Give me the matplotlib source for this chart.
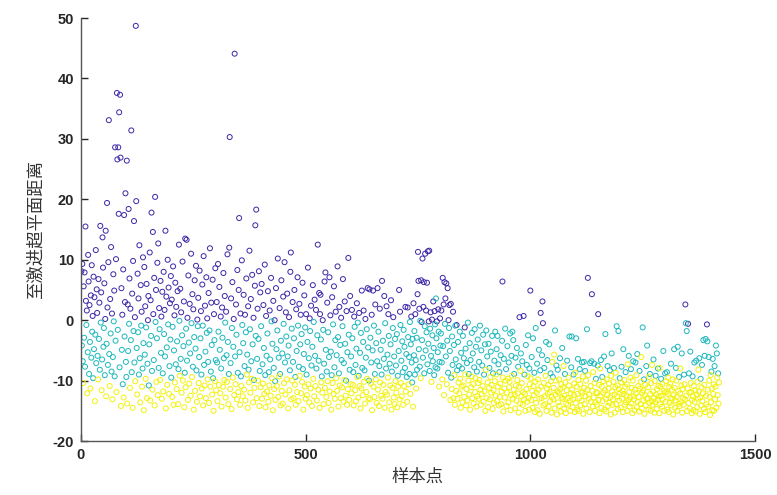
import matplotlib
matplotlib.use('Agg')
import matplotlib.pyplot as plt
import numpy as np

plt.rcParams['axes.unicode_minus'] = False

# distance of each sample to the hyperplane (x = 1..N)
dist = [
    8.1, -4.2, 9.3, -6.8, -10.4, 5.6, -2.9, 7.9, -7.7, 15.5,
    3.2, -0.8, 1.6, -12.1, -5.3, 10.8, 6.4, -8.9, 2.5, -3.6,
    -11.3, 4.1, -6.2, 9.1, -1.9, 0.7, -9.6, 7.2, -4.8, 3.8,
    -13.4, -2.4, 11.6, -7.1, 5.1, 1.2, -5.9, -9.8, 6.8, -3.1,
    2.9, -8.2, 15.6, -0.4, 4.6, -11.6, -6.5, 13.7, 8.7, -4.4,
    -1.3, 6.1, -9.1, 0.2, 14.8, -12.6, -3.9, 19.4, 2.1, -7.4,
    9.6, 33.1, -5.6, -10.9, 3.5, -2.2, 12.1, -8.5, 1.1, -13.1,
    -6.1, 7.6, -0.2, 4.9, -9.3, 28.6, -3.4, 10.1, -11.9, 37.6,
    26.6, -1.6, 28.6, 17.6, 34.4, -7.8, 37.3, 26.9, -14.2, 5.3,
    -4.9, 0.9, -10.6, 8.4, -12.8, 17.4, -2.7, 3.0, 21.0, -6.9,
    -9.4, 26.4, -13.8, 2.6, -5.1, 18.4, -0.6, 6.9, -11.2, 1.9,
    -3.3, 31.4, -8.6, 4.4, -14.5, 9.8, -1.8, 16.4, -7.0, 0.5,
    -10.1, 48.7, 19.7, -4.6, -12.3, 7.7, -2.0, 3.6, -9.0, 12.4,
    -6.3, -13.6, 5.8, -0.9, 1.4, -11.0, -8.0, 10.4, -3.8, -14.9,
    8.8, -5.7, 2.3, -9.7, -1.2, 6.0, -12.9, -7.2, 0.0, 4.0,
    -10.8, -4.0, 11.2, -13.3, 3.3, -2.6, 17.8, -8.4, -11.5, 14.6,
    1.0, -6.6, 7.0, -14.1, 20.4, -0.3, 5.0, -10.2, -3.0, 9.5,
    -12.4, 12.7, -7.9, 2.0, -1.5, -9.9, 6.5, -5.4, 0.6, -13.0,
    4.7, -8.8, -11.8, 8.0, -2.3, 1.7, -6.0, 14.8, -14.6, 3.9,
    -4.5, -10.7, 10.0, -0.7, 5.4, -12.2, -7.6, 2.8, -3.2, 7.3,
    -9.5, 3.4, -12.7, -1.1, 8.9, -14.0, -5.0, 0.8, -10.3, 6.2,
    -7.3, 2.2, -11.4, -3.5, 4.8, -13.9, -8.1, 12.5, -0.1, -9.2,
    5.2, -6.4, 1.3, -12.0, -2.5, 9.7, -10.0, -4.3, 3.1, -14.4,
    -8.7, 13.5, -11.1, -1.4, 13.3, -6.7, 0.4, -13.2, 7.4, -3.7,
    -10.5, 2.7, -5.5, -12.5, 11.0, -0.5, -9.4, 4.3, -7.7, 1.8,
    -14.8, -2.8, 6.6, -11.7, -4.7, 9.0, -8.3, -13.5, 0.1, -1.0,
    3.7, -10.4, -6.1, 8.2, -12.6, -3.0, 1.5, -9.0, -11.3, 5.9,
    -0.9, -14.1, 10.6, -7.4, -10.8, 2.4, -5.2, -12.9, 7.1, -2.1,
    0.3, -9.8, -6.9, 4.5, -13.7, -1.7, 11.9, -11.0, -8.5, 2.9,
    -4.1, -12.3, 6.7, -9.6, -15.0, 1.0, -3.3, -10.1, 8.6, -6.6,
    -11.6, 3.0, -7.0, -13.4, 9.3, -1.9, -10.7, 5.5, -4.9, -12.1,
    0.6, -8.0, -14.3, 2.1, -2.9, -11.0, 7.8, -6.3, -9.9, 4.0,
    -0.4, -12.8, 1.4, -5.8, -10.2, 10.9, -3.6, -13.9, -8.9, 12.0,
    30.3, -11.4, -7.1, 3.6, -14.7, -1.3, 6.3, -9.5, -4.4, 0.2,
    -12.4, 44.1, -6.0, -10.6, 2.6, -2.4, -13.1, 8.3, -8.7, -11.9,
    5.0, 16.9, -5.3, -14.0, 1.1, -9.3, -10.9, 9.9, -0.8, -12.6,
    -3.8, 4.2, -11.5, -7.6, 0.9, -13.3, -2.0, 6.9, -9.0, -5.7,
    -14.5, 2.3, -8.2, -10.3, 11.5, -1.5, -12.0, 3.5, -6.8, -9.7,
    7.5, -4.0, -13.6, 0.4, -9.9, -11.2, 5.7, 15.7, -2.6, 18.3,
    -12.9, -6.4, 1.9, -10.0, -3.1, 8.1, -14.2, -8.4, 4.6, -11.1,
    -1.0, 6.0, -13.0, -7.3, -10.5, 2.5, -4.6, -12.2, 9.2, -9.1,
    -14.4, 0.7, -5.9, -11.8, -2.2, 4.8, -13.5, -8.6, -10.8, 1.6,
    -6.5, -12.5, 7.0, -0.2, -9.6, -3.9, -14.9, 3.2, -7.9, -11.4,
    0.0, -10.1, -13.2, 5.3, -4.8, -10.9, -1.7, 10.2, -12.7, -6.2,
    -9.3, 2.0, -8.9, -14.1, -3.4, 6.6, -11.7, -5.5, -13.8, 3.9,
    -0.6, -10.4, 9.6, -7.0, -12.3, 1.3, -2.7, -9.8, 4.4, -6.0,
    -14.6, -4.2, 0.5, -11.6, -8.3, 8.0, 11.2, -13.1, -1.4, -10.0,
    3.0, -6.9, -12.9, -3.0, 5.0, -10.7, -9.4, -14.0, 1.8, -5.1,
    -11.9, 7.1, -0.9, -13.4, -7.7, 2.7, -9.2, -4.0, 0.9, -12.1,
    -2.3, -10.2, 6.2, -8.1, -14.8, -5.6, 4.1, -11.0, -1.2, -13.0,
    1.0, -9.0, -12.4, -3.6, 8.7, -10.6, -6.3, -13.6, 0.3, -1.8,
    -11.3, 2.4, -7.5, -14.2, -4.4, 5.8, -9.7, -0.3, -12.6, 3.4,
    -5.9, -10.9, 1.7, -8.0, -13.3, -2.5, 12.5, -11.5, -6.7, 4.5,
    -14.5, 1.0, 4.2, -3.2, -10.3, -9.3, -12.0, 0.0, -1.6, -13.9,
    -7.2, 6.4, -11.2, 7.9, -4.9, -12.7, -8.5, 2.9, -10.1, -2.0,
    -13.7, -6.1, 7.1, -11.8, 0.8, -5.2, -14.8, -9.1, 3.8, -10.4,
    -0.7, -12.2, 5.6, -7.8, -13.0, -3.3, 1.4, -9.6, -5.8, -11.7,
    8.9, -2.8, -14.3, -8.8, 2.2, -10.8, -4.1, -12.9, 0.4, -6.6,
    -11.1, -1.0, 6.8, -13.5, -7.1, -9.9, 3.1, -3.9, -12.5, -10.0,
    1.5, -14.0, -5.3, -11.4, 10.3, -2.4, -13.2, -8.2, 4.0, -10.6,
    -6.0, -12.1, 1.7, -3.0, -10.7, -8.6, -14.1, 0.6, -1.1, -11.6,
    -7.4, -13.4, -4.7, 2.8, -9.4, -0.4, -12.8, -9.2, 1.2, -10.9,
    -5.4, -14.6, -2.1, -11.3, 4.9, -7.9, -12.4, -3.6, 1.6, -10.2,
    -8.3, -13.8, 0.2, -6.2, -11.9, -1.5, -9.7, 5.3, -4.5, -12.9,
    -10.0, 5.1, -13.1, -2.9, -10.5, -7.0, 0.9, -14.9, -5.0, 4.9,
    -11.0, -0.9, -12.7, -8.9, 2.6, -9.8, -3.8, -13.7, -6.8, 5.3,
    -11.5, -1.9, -14.2, -7.6, 1.9, -10.3, -4.9, -12.5, -9.0, 6.5,
    -13.0, -3.4, -10.7, -6.4, 4.0, -14.5, -0.5, -11.9, -8.0, 2.3,
    -12.3, -5.7, -9.5, 1.0, -2.6, -13.6, -7.2, -10.8, -4.0, 3.3,
    -14.8, -8.5, -11.2, -1.3, 0.5, -12.8, -6.0, -13.9, -3.1, -10.1,
    -7.5, -12.0, -2.3, -14.4, -9.2, -11.0, -5.1, 5.0, -13.1, 1.4,
    -0.8, -10.4, -6.7, -12.6, -3.5, -8.6, -14.0, -1.6, -10.9, -4.4,
    -7.9, 2.2, -11.8, -5.6, -9.4, -13.5, 2.1, -2.8, -10.6, -6.1,
    -8.9, -0.3, -12.2, -4.0, 0.6, -7.0, -10.3, -3.1, -14.3, 2.8,
    -5.8, -1.8, -9.0, 1.0, -6.6, -11.3, -2.9, -8.2, 4.3, 11.3,
    6.5, -4.8, 1.9, -7.7, -0.1, -9.6, 6.6, -0.3, -3.3, 10.2,
    -6.2, 2.2, 6.3, -8.8, -1.0, 11.0, -5.0, 1.6, -2.0, 6.2,
    -7.3, 11.4, -3.9, -0.2, 11.5, -8.4, -1.4, 1.3, -5.9, -10.2,
    0.1, -2.5, -6.8, 3.1, -4.6, -9.1, 1.5, -0.7, -7.8, 3.6,
    -3.0, -0.2, -8.0, -5.3, 1.8, -1.9, -11.0, -6.9, 0.3, -4.2,
    -2.2, 1.6, -7.0, -9.8, 7.0, -4.3, 2.6, -12.4, 6.3, -0.6,
    3.6, -6.0, 6.1, -10.6, -3.4, 5.3, -8.7, 0.0, -1.3, 2.5,
    -5.1, -13.2, 2.7, -9.5, -11.4, -2.7, -7.4, 1.4, -12.9, -4.1,
    -9.1, -14.0, -0.9, -6.5, -11.7, -0.8, -8.3, -13.0, -3.6, -10.3,
    -7.6, -12.1, -1.9, -9.7, -14.5, -5.4, -11.0, -8.0, -13.6, -2.6,
    -10.8, -6.3, -12.7, -1.2, -9.0, -4.7, -14.1, -11.4, -7.1, -13.3,
    -0.4, -10.0, -8.9, -12.3, -3.8, -14.8, -6.6, -11.1, -9.3, -2.1,
    -12.9, -5.5, -10.6, -13.8, -7.8, -1.5, -11.9, -9.6, -4.4, -14.3,
    -8.5, -12.6, -3.2, -10.4, -13.0, -6.9, -9.9, -0.9, -11.5, -14.0,
    -5.0, -12.2, -7.5, -10.9, -2.4, -13.5, -9.0, -11.8, -4.0, -15.0,
    -8.2, -1.7, -12.9, -6.0, -10.3, -14.4, -3.9, -11.2, -7.9, -13.1,
    -9.4, -5.2, -12.0, -10.7, -2.6, -14.7, -8.8, -11.6, -13.7, -6.7,
    -10.1, -1.9, -12.5, -9.0, -4.8, -13.4, -2.6, -11.0, -7.3, -14.1,
    -8.6, -12.7, -10.5, -5.8, -13.9, -11.8, -3.4, 6.4, -9.5, -15.1,
    -6.4, -11.3, -12.8, -1.4, -10.0, -8.1, -14.2, -12.0, -4.3, -9.7,
    -13.6, -7.0, -11.1, -10.2, -2.2, -14.9, -12.4, -5.9, -9.2, -1.9,
    -13.0, -3.3, -11.5, -8.9, -12.3, -14.6, -6.2, -10.8, -13.3, -4.6,
    -9.9, -12.1, -7.7, -15.3, -11.0, 0.5, -13.8, -8.4, -5.5, -12.6,
    -10.4, -6.8, -14.0, -11.9, 0.7, -13.1, -9.0, -12.2, -15.0, -4.1,
    -11.4, -7.4, -13.5, -9.3, -2.5, -12.9, -14.8, -8.0, -10.6, 4.9,
    -9.6, -13.2, -6.1, -11.7, -14.5, -3.0, -10.9, -12.4, -8.7, -15.2,
    -10.2, -1.3, -13.7, -12.0, -7.2, -14.9, -9.8, -11.5, -4.9, -13.0,
    -15.5, -8.3, 1.2, -11.0, -12.9, -5.8, 3.1, -0.5, -14.1, -10.4,
    -7.9, -12.6, -13.9, -9.2, -3.6, -15.0, -11.3, -6.6, -12.2, -10.7,
    -14.3, -4.0, -11.9, -13.4, -8.8, -10.1, -15.3, -12.7, -6.9, -9.4,
    -13.1, -11.2, -5.7, -14.6, -1.7, -12.3, -10.0, -7.5, -15.6, -11.8,
    -8.2, -13.6, -12.0, -9.8, -14.2, -6.3, -11.4, -15.1, -10.6, -12.8,
    -4.6, -13.0, -11.1, -7.6, -14.7, -12.5, -8.9, -10.3, -15.4, -13.8,
    -11.6, -6.7, -12.9, -14.0, -9.5, -10.8, -2.7, -13.3, -15.0, -12.1,
    -7.8, -2.7, -11.5, -14.4, -13.1, -9.0, -12.4, -10.5, -15.2, -8.7,
    -13.7, -3.0, -11.0, -14.8, -12.2, -6.4, -9.9, -15.0, -12.9, -8.1,
    -10.6, -14.1, -11.8, -13.3, -7.0, -12.0, -9.3, -15.5, -6.9, -11.2,
    -13.9, -8.4, -12.6, -10.0, -14.6, -1.5, -11.5, 7.0, -9.1, -13.0,
    -12.3, -15.2, -7.1, -10.9, -13.5, -6.8, 4.3, -11.7, -14.3, -8.6,
    -12.8, -7.2, -10.4, -15.0, -13.6, -9.7, -11.9, -14.0, -12.1, -7.5,
    1.0, -13.2, -10.7, -15.4, -8.0, -12.5, -6.6, -14.5, -11.0, -9.4,
    -13.4, -12.0, -10.1, -6.0, -14.8, -11.6, -2.3, -13.0, -15.1, -9.8,
    -12.4, -7.6, -14.2, -11.3, -10.5, -13.7, -8.3, -12.8, -15.6, -9.2,
    -5.5, -11.8, -14.0, -13.1, -10.2, -7.9, -12.3, -15.3, -11.1, -8.7,
    -13.9, -1.0, -12.6, -10.8, -14.7, -1.8, -11.4, -13.3, -9.6, -12.0,
    -14.5, -10.3, -7.7, -13.0, -11.7, -15.2, -4.8, -12.2, -9.9, -14.0,
    -11.0, -8.6, -13.6, -12.5, -10.6, -15.0, -7.3, -13.2, -5.9, -11.9,
    -14.3, -12.8, -9.5, -8.1, -13.8, -11.2, -15.4, -10.0, -6.8, -12.6,
    -13.1, -14.9, -11.5, -7.0, -12.1, -9.1, -14.4, -5.6, -13.5, -10.9,
    -12.7, -15.1, -8.4, -11.3, -13.9, -10.2, -6.1, -14.6, -12.0, -1.2,
    -11.6, -13.3, -9.8, -15.5, -12.4, -10.7, -14.1, -7.6, -13.0, -4.2,
    -12.9, -11.1, -14.8, -9.4, -13.7, -8.9, -12.2, -15.0, -10.4, -13.4,
    -7.4, -14.0, -11.8, -6.5, -12.9, -15.3, -10.1, -13.6, -9.2, -12.3,
    -14.7, -11.4, -13.2, -8.0, -10.9, -12.6, -15.4, -7.9, -13.9, -11.0,
    -9.7, -12.5, -14.3, -10.6, -13.1, -5.1, -11.7, -15.0, -12.0, -8.8,
    -13.5, -10.1, -11.9, -8.6, -14.8, -12.2, -9.5, -15.2, -11.0, -13.7,
    -10.5, -12.9, -7.2, -14.1, -11.5, -13.0, -9.8, -15.6, -12.4, -4.8,
    -11.2, -14.5, -13.3, -7.9, -10.0, -12.7, -15.0, -4.4, -11.7, -13.8,
    -9.4, -14.2, -12.1, -8.0, -13.6, -10.8, -5.5, -15.3, -11.4, -12.9,
    -14.0, -9.0, -10.6, -13.1, 2.6, -0.5, -12.5, -1.8, -15.0, -11.3,
    -0.6, -13.7, -8.8, -12.0, -14.6, -5.2, -10.4, -11.9, -15.4, -13.2,
    -9.3, -12.6, -14.9, -10.9, -7.0, -13.5, -11.6, -15.1, -6.7, -12.3,
    -14.4, -10.2, -13.0, -8.2, -11.8, -6.3, -15.5, -12.8, -9.7, -14.1,
    -11.1, -7.4, -13.4, -12.1, -3.3, -14.7, -10.7, -5.9, -15.2, -3.1,
    -12.5, -13.9, -0.7, -3.5, -11.5, -14.3, -6.1, -10.0, -12.7, -15.7,
    -9.1, -13.6, -8.5, -11.3, -14.9, -6.4, -12.2, -10.6, -15.0, -7.6,
    -13.1, -11.0, -4.2, -14.5, -5.5, -9.5, -12.4, -8.8, -13.8, -10.3,
]

# cluster of each sample: 0 = dark blue, 1 = cyan, 2 = yellow
cluster = ''.join([
    "0101201010", "0102100101", "2010101010", "2101001201", "0101021001",
    "1010021001", "0012010102", "1010101020", "0100010020", "1010201001",
    "1020101020", "1010201010", "2001201010", "1201021012", "0102102100",
    "1102010120", "0102010210", "2010120102", "0120101020", "1201021010",
    "1021021020", "1021021012", "0102102102", "1021010201", "2012012010",
    "2102101201", "0210210120", "1201201201", "0210210210", "1201201201",
    "2012012012", "0120120120", "1201201210", "0210210210", "2012012012",
    "0012012012", "1021021021", "2012012012", "0120120010", "2102102102",
    "1021201201", "2012102120", "1201212012", "0120121021", "2012102120",
    "1201201201", "2102100212", "0121021201", "2012102102", "1201210212",
    "0121021201", "2012102120", "1201210210", "2001212012", "1020121021",
    "2102012102", "1201210212", "0121021201", "2102120121", "0212012102",
    "1201212012", "1210212102", "1212012102", "1201212012", "1021210210",
    "2121021210", "2121021210", "2121021210", "2120121210", "2121021212",
    "1212121020", "1212112121", "1021120121", "1121011120", "1110121100",
    "0101120010", "1001101010", "1010011012", "0110110111", "1011012101",
    "1012010201", "0102101010", "1201211021", "2211201212", "1212212121",
    "2120212212", "1212121221", "2122112212", "1212212122", "1212121212",
    "2121221212", "2122121221", "2122121212", "1221221022", "1221212212",
    "2122122121", "2121221221", "2212202212", "2122021221", "2122122120",
    "2212212212", "2122122212", "2102210022", "1222122122", "2122122221",
    "2222122122", "1222212222", "1222221222", "2122221222", "1122212222",
    "2122212221", "2222122212", "2122212022", "2212210222", "2122212221",
    "0222221221", "2221221222", "2122221222", "1222212222", "2122212212",
    "2212221222", "2122222212", "2221222212", "2221222122", "2212222221",
    "2212222121", "2222212222", "2221222212", "2221222222", "1222212221",
    "2221222222", "2212222221", "2221222122", "1222221222", "2122012122",
    "0212212222", "1222122212", "2222212212", "2122122121", "2201221222",
    "2212212221", "2212122122",
])

colours = ['#3E26A8', '#1CB8BC', '#F2F20C']

y = np.array(dist)
x = np.arange(1, len(y) + 1)
lab = np.array([int(c) for c in cluster[:len(y)]])

fig = plt.figure(figsize=(7.77, 4.95), dpi=100)
ax = fig.add_axes([0.1042, 0.109, 0.8675, 0.8546])

for k in range(3):
    m = lab == k
    ax.scatter(x[m], y[m], s=13, facecolors='none', edgecolors=colours[k],
               linewidths=0.7, zorder=2)

ax.set_xlim(0, 1500)
ax.set_ylim(-20, 50)
ax.set_xticks([0, 500, 1000, 1500])
ax.set_yticks(np.arange(-20, 51, 10))
ax.spines['top'].set_visible(False)
ax.spines['right'].set_visible(False)
for s in ['left', 'bottom']:
    ax.spines[s].set_color('#555555')
    ax.spines[s].set_linewidth(1.0)
ax.tick_params(direction='in', length=5, width=1, colors='#262626',
               labelsize=10.5, pad=5)
for t in ax.get_xticklabels() + ax.get_yticklabels():
    t.set_fontfamily('Liberation Sans')
    t.set_fontweight('bold')

ax.set_xlabel('样本点', family=['Noto Sans CJK SC', 'DejaVu Sans'],
              fontsize=12.5, color='#333333', labelpad=4)
ax.set_ylabel('至激进超平面距离', family=['Noto Sans CJK SC', 'DejaVu Sans'],
              fontsize=12.5, color='#333333', labelpad=6)

fig.savefig('out.png', dpi=100)
